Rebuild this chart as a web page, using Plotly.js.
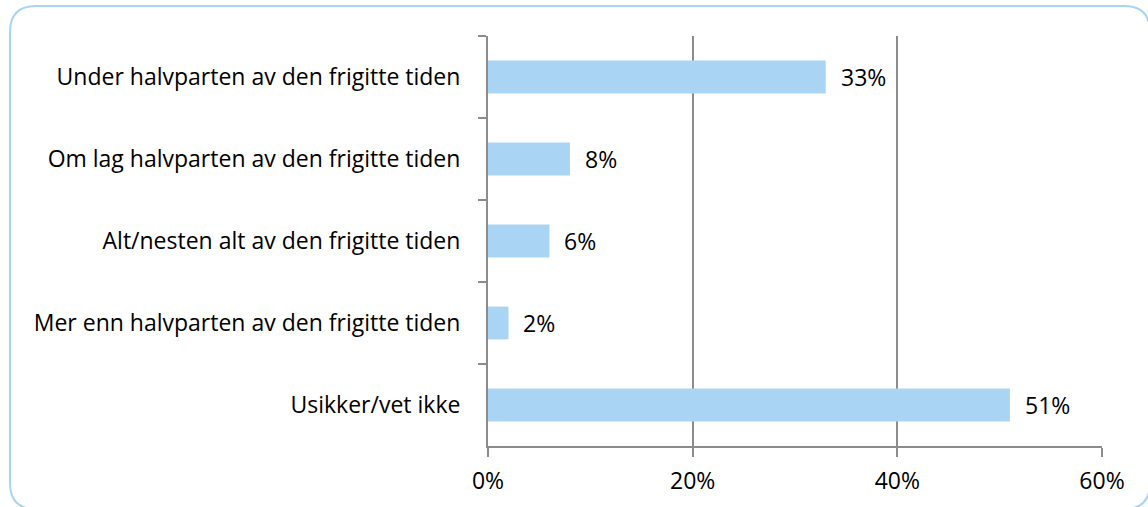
<!DOCTYPE html>
<html>
<head>
<meta charset="utf-8">
<script src="https://cdn.plot.ly/plotly-3.0.1.min.js"></script>
<style>
html,body{margin:0;padding:0;background:#fff;}
#chart{width:1148px;height:507px;}
</style>
</head>
<body>
<div id="chart"></div>
<script>
// Data (top to bottom in the chart)
const categories = [
  "Under halvparten av den frigitte tiden",
  "Om lag halvparten av den frigitte tiden",
  "Alt/nesten alt av den frigitte tiden",
  "Mer enn halvparten av den frigitte tiden",
  "Usikker/vet ikke"
];
const values = [0.33, 0.08, 0.06, 0.02, 0.51];
const valueLabels = ["33%", "8%", "6%", "2%", "51%"];
const xTickVals = [0, 0.2, 0.4, 0.6];
const xTickText = ["0%", "20%", "40%", "60%"];

const W = 1148, H = 507;
const L = 488, R = 1102, T = 36, B = 446;
const px = x => (x - L) / (R - L);
const py = y => (B - y) / (B - T);

// rounded frame path in paper coordinates
const fx0 = 10, fy0 = 6, fx1 = 1150, fy1 = 509, rad = 26;
function framePath(){
  const p = [];
  p.push(`M ${px(fx0+rad)},${py(fy0)}`);
  p.push(`L ${px(fx1-rad)},${py(fy0)}`);
  p.push(`Q ${px(fx1)},${py(fy0)} ${px(fx1)},${py(fy0+rad)}`);
  p.push(`L ${px(fx1)},${py(fy1-rad)}`);
  p.push(`Q ${px(fx1)},${py(fy1)} ${px(fx1-rad)},${py(fy1)}`);
  p.push(`L ${px(fx0+rad)},${py(fy1)}`);
  p.push(`Q ${px(fx0)},${py(fy1)} ${px(fx0)},${py(fy1-rad)}`);
  p.push(`L ${px(fx0)},${py(fy0+rad)}`);
  p.push(`Q ${px(fx0)},${py(fy0)} ${px(fx0+rad)},${py(fy0)}`);
  p.push('Z');
  return p.join(' ');
}

const font = {family: "Open Sans, Liberation Sans, sans-serif", size: 23, color: "#000"};

const trace = {
  type: "bar",
  orientation: "h",
  y: categories,
  x: values,
  marker: {color: "#a9d4f4", line: {width: 0}},
  width: 0.4,
  hoverinfo: "skip"
};

const annotations = categories.map((c, i) => ({
  x: values[i], y: c, xref: "x", yref: "y",
  text: valueLabels[i], showarrow: false,
  xanchor: "left", yanchor: "middle", xshift: 13,
  font: font
}));

const layout = {
  width: W, height: H,
  margin: {l: L, r: W - R, t: T, b: H - B, pad: 0},
  paper_bgcolor: "#fff",
  plot_bgcolor: "#fff",
  showlegend: false,
  font: font,
  xaxis: {
    range: [0, 0.6],
    tickvals: xTickVals,
    ticktext: xTickText,
    showgrid: true,
    gridcolor: "#8c8c8c",
    gridwidth: 2,
    zeroline: false,
    showline: true,
    linecolor: "#8c8c8c",
    linewidth: 2,
    ticks: "outside",
    ticklen: 9,
    tickwidth: 2,
    tickcolor: "#8c8c8c",
    tickfont: font,
    ticklabelstandoff: 4,
    fixedrange: true
  },
  yaxis: {
    type: "category",
    autorange: "reversed",
    showgrid: false,
    zeroline: false,
    showline: true,
    linecolor: "#8c8c8c",
    linewidth: 2,
    ticks: "outside",
    tickson: "boundaries",
    ticklen: 8,
    tickwidth: 2,
    tickcolor: "#8c8c8c",
    tickfont: font,
    ticklabelstandoff: 21,
    fixedrange: true
  },
  annotations: annotations,
  shapes: [{
    type: "path",
    xref: "paper", yref: "paper",
    path: framePath(),
    line: {color: "#a9d4f4", width: 2},
    fillcolor: "rgba(0,0,0,0)",
    layer: "above"
  }]
};

Plotly.newPlot("chart", [trace], layout, {staticPlot: true, displayModeBar: false});
</script>
</body>
</html>
